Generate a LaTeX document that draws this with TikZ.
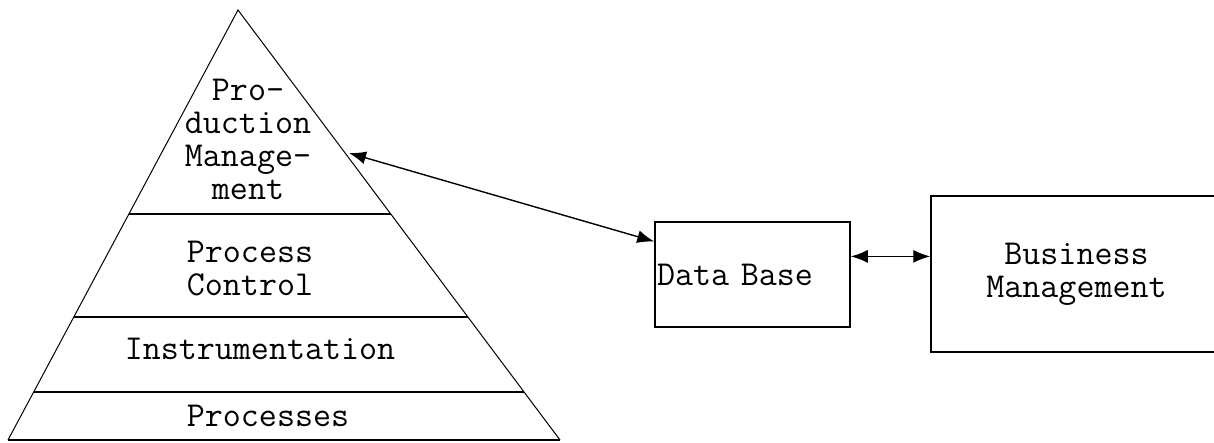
\documentclass[tikz,border=0pt]{standalone}
\usepackage{fontspec}
\usetikzlibrary{arrows.meta,calc}

\tikzset{
  layer/.style={font=\ttfamily\fontsize{35}{33}\selectfont, align=center, inner sep=0pt},
  box/.style={draw, line width=1.5pt, font=\ttfamily\fontsize{35}{33}\selectfont},
  link/.style={{Latex[length=17pt,width=13pt]}-{Latex[length=17pt,width=13pt]}, line width=1.4pt}
}

\begin{document}
\begin{tikzpicture}[x=1pt,y=-1pt]
    \useasboundingbox (0,0) rectangle (1214,442);

    % pyramid with its layers
    \coordinate (apex) at (238,10);
    \coordinate (bl) at (8,440);
    \coordinate (br) at (560,440);
    \draw[line width=1pt] (bl) -- (apex) -- (br);
    \draw[line width=1.6pt] (bl) -- (br);
    \foreach \t in {0.474,0.714,0.888}{
      \draw[line width=1.6pt] ($(apex)!\t!(bl)$) -- ($(apex)!\t!(br)$);
    }
    \node[layer] (prodman) at (248,139) {Pro-\\duction\\Manage-\\ment};
    \node[layer] (proccon) at (250,269) {Process\\Control};
    \node[layer] (instr) at (260,349) {Instrumentation};
    \node[layer] (procs) at (268,416) {Processes};
    \coordinate (pyredge) at (349,153);

    % boxes on the right
    \node[box, minimum height=105pt, text width=191pt, inner xsep=2pt, align=left]
      (db) at (752.5,274.5) {Data Base};
    \node[box, minimum width=291pt, minimum height=156pt, align=center]
      (bm) at (1076.5,274) {Business\\Management};

    \coordinate (dbin) at ($(db.north west)!0.19!(db.south west)$);
    \coordinate (dbout) at ($(db.north east)!0.33!(db.south east)$);
    \draw[link] (pyredge) -- (dbin);
    \draw[link] (dbout) -- (dbout -| bm.west);
\end{tikzpicture}
\end{document}
